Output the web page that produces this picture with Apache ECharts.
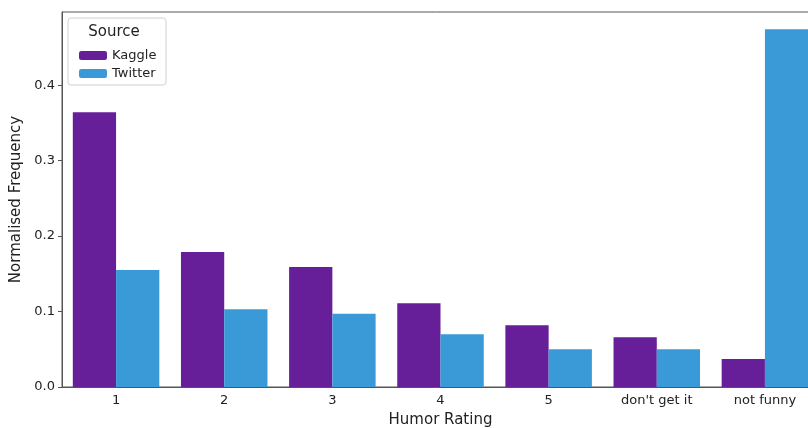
<!DOCTYPE html>
<html>
<head>
<meta charset="utf-8">
<script src="https://cdn.jsdelivr.net/npm/echarts@6/dist/echarts.min.js"></script>
<style>
  html, body { margin: 0; padding: 0; background: #fff; }
  #chart { width: 808px; height: 428px; }
</style>
</head>
<body>
<div id="chart"></div>
<script>
// humor rating categories
var categories = ["1", "2", "3", "4", "5", "don't get it", "not funny"];
var kaggleVals = [0.364, 0.179, 0.159, 0.111, 0.082, 0.066, 0.037];
var twitterVals = [0.155, 0.103, 0.097, 0.070, 0.050, 0.050, 0.474];
var yTicks = [0, 0.1, 0.2, 0.3, 0.4];

var myChart = echarts.init(document.getElementById("chart"));
var font = "DejaVu Sans";

myChart.setOption({
  animation: false,
  textStyle: { fontFamily: font },
  grid: {
    left: 62,
    width: 757,
    top: 12,
    height: 375,
    outerBoundsMode: "none",
    containLabel: false,
    show: true,
    borderColor: "#555",
    borderWidth: 1
  },
  legend: {
    data: ["Kaggle", "Twitter"],
    orient: "vertical",
    left: 74,
    top: 44,
    itemWidth: 28,
    itemHeight: 9,
    itemGap: 5,
    textStyle: { fontFamily: font, fontSize: 13, color: "#222" }
  },
  graphic: [
    {
      type: "rect",
      shape: { x: 68, y: 18, width: 98, height: 67, r: 3 },
      style: { fill: "rgba(255,255,255,0.8)", stroke: "#d0d0d0", lineWidth: 1 },
      z: 1
    },
    {
      type: "text",
      x: 114,
      y: 32,
      style: {
        text: "Source",
        fontFamily: font,
        fontSize: 15,
        fill: "#222",
        align: "center",
        verticalAlign: "middle"
      },
      z: 2
    }
  ],
  xAxis: {
    type: "category",
    data: categories,
    name: "Humor Rating",
    nameLocation: "middle",
    nameGap: 26,
    nameTextStyle: { fontFamily: font, fontSize: 15, color: "#222" },
    axisLine: { lineStyle: { color: "#555", width: 1 } },
    axisTick: { alignWithLabel: true, length: 4, lineStyle: { color: "#555" } },
    axisLabel: { fontFamily: font, fontSize: 13, color: "#222", margin: 7 }
  },
  yAxis: {
    type: "value",
    min: 0,
    max: 0.497,
    interval: 0.1,
    name: "Normalised Frequency",
    nameLocation: "middle",
    nameGap: 37,
    nameTextStyle: { fontFamily: font, fontSize: 15, color: "#222" },
    axisLine: { show: true, lineStyle: { color: "#555", width: 1 } },
    axisTick: { show: true, length: 4, lineStyle: { color: "#555" } },
    splitLine: { show: false },
    axisLabel: {
      fontFamily: font,
      fontSize: 13,
      color: "#222",
      margin: 7,
      showMaxLabel: false,
      formatter: function (v) {
        return yTicks.indexOf(Math.round(v * 10) / 10) >= 0 ? v.toFixed(1) : "";
      }
    }
  },
  series: [
    {
      name: "Kaggle",
      type: "bar",
      data: kaggleVals,
      barWidth: "40%",
      barGap: "0%",
      itemStyle: { color: "#661f98" }
    },
    {
      name: "Twitter",
      type: "bar",
      data: twitterVals,
      barWidth: "40%",
      barGap: "0%",
      itemStyle: { color: "#3a9ad8" }
    }
  ]
});
</script>
</body>
</html>
